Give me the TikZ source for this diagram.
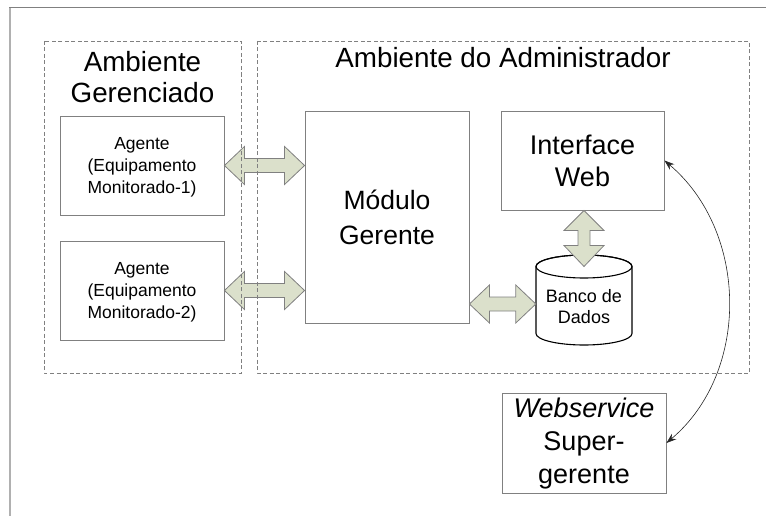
\documentclass[tikz,border=0pt]{standalone}
\usepackage{fontspec}
\setmainfont{Liberation Sans}
\usetikzlibrary{arrows.meta,calc}
\definecolor{arrowfill}{RGB}{219,224,203}
\definecolor{boxgray}{RGB}{128,128,128}
\definecolor{framegray}{RGB}{176,176,176}
\newcommand{\hdarrow}[2]{\draw[blockarrow] (#1) -- ++(20,-19) -- ++(0,12) -- ($(#2)+(-20,-7)$) -- ++(0,-12) -- (#2) -- ++(-20,19) -- ++(0,-12) -- ($(#1)+(20,7)$) -- ++(0,12) -- cycle;}
\begin{document}
\begin{tikzpicture}[x=1pt,y=-1pt,
  box/.style={draw=boxgray, line width=0.9pt, fill=white, minimum width=164pt, minimum height=99pt, inner sep=0pt, align=center, text depth=0pt},
  region/.style={draw=boxgray, dash pattern=on 4pt off 2.5pt, line width=0.8pt},
  blockarrow/.style={draw=boxgray, fill=arrowfill, line width=0.8pt, line join=miter},
  small/.style={font=\fontsize{17.5}{22}\selectfont, text height=56.6pt},
  big/.style={font=\fontsize{27}{32}\selectfont, text height=51pt},
  title/.style={font=\fontsize{27.8}{31}\selectfont, inner sep=0pt, align=center},
  link/.style={{Stealth[length=10pt,width=7pt]}-{Stealth[length=10pt,width=7pt]}, line width=0.6pt, draw=black!85}
]
\useasboundingbox (0,0) rectangle (766,516);
\draw[framegray, line width=1.8pt] (10,516) -- (10,8);
\draw[boxgray, line width=1pt] (9.1,8) -- (766,8);

% titles
\node[title, text height=50.3pt, text depth=0pt] (tg) at (142.5,77.85) {Ambiente\\Gerenciado};
\node[title, anchor=base] (ta) at (503,68) {Ambiente do Administrador};

% boxes
\node[box, small] (ag1) at (142,165.5) {Agente\\(Equipamento\\Monitorado-1)};
\node[box, small] (ag2) at (142,290.5) {Agente\\(Equipamento\\Monitorado-2)};
\node[box, minimum height=212pt, font=\fontsize{26.5}{35}\selectfont, text height=54pt] (mg) at (387,217) {Módulo\\Gerente};
\node[box, minimum width=163pt, big] (web) at (582.5,160.5) {Interface\\Web};
\node[box, minimum height=100pt, font=\fontsize{27}{33.4}\selectfont, text height=81.8pt] (ws) at (584,443) {\textit{Webservice}\\Super-\\gerente};

% database cylinder
\coordinate (dbc) at (584,300);
\draw[fill=white, line width=1.1pt] ($(dbc)+(-48,-33.5)$) -- ($(dbc)+(-48,33.5)$)
  arc[start angle=180, end angle=360, x radius=48pt, y radius=11.5pt]
  -- ($(dbc)+(48,-33.5)$)
  arc[start angle=0, end angle=180, x radius=48pt, y radius=11.5pt] -- cycle;
\draw[line width=1.1pt] ($(dbc)+(0,-33.5)$) ellipse[x radius=48pt, y radius=11.5pt];
\node[minimum width=96pt, minimum height=90pt, inner sep=0pt, align=center,
  font=\fontsize{18}{21}\selectfont, text height=47.4pt, text depth=0pt] (db) at (dbc) {Banco de\\Dados};
\coordinate (dbl) at ($(db.west)+(0,4)$);
\coordinate (dbtop) at ($(dbc)+(0,-33.5)$);
\coordinate (webb) at (db.center |- web.south);

% block arrows
\hdarrow{ag1.east}{mg.west |- ag1.east}
\hdarrow{ag2.east}{mg.west |- ag2.east}
\hdarrow{mg.east |- dbl}{dbl}
\draw[blockarrow] (webb) -- ++(20,20) -- ++(-14,0) -- ($(dbtop)+(6,-21)$) -- ++(14,0) -- (dbtop)
  -- ++(-20,-21) -- ++(14,0) -- ($(webb)+(-6,20)$) -- ++(-14,0) -- cycle;

% regions (drawn over arrows)
\draw[region] (44,41) rectangle (241,373);
\draw[region] (257,41) rectangle (749,373);

% curved link
\draw[link] (web.east) .. controls +(84,71) and +(84,-71) .. (ws.east);
\end{tikzpicture}
\end{document}
